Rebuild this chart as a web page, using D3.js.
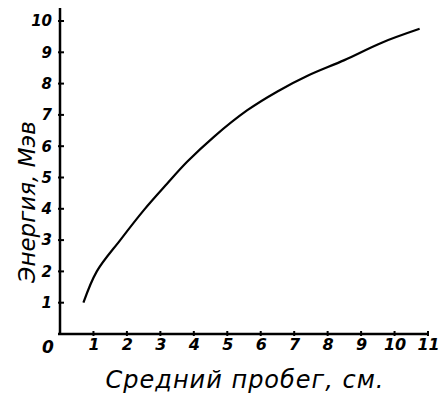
<!DOCTYPE html>
<html><head><meta charset="utf-8">
<script src="https://cdn.jsdelivr.net/npm/d3@7/dist/d3.min.js"></script>
<style>body{margin:0;background:#fff}svg{display:block}</style>
</head><body>
<script>
const rangeCm = [0.7,1.1,1.8,2.5,3.2,3.8,4.6,5.6,6.5,7.4,8.5,9.6,10.75];
const energyMeV = [1.0,2.0,3.0,3.95,4.8,5.5,6.3,7.15,7.75,8.25,8.75,9.3,9.75];
const xTicks = [1,2,3,4,5,6,7,8,9,10,11];
const yTicks = [1,2,3,4,5,6,7,8,9,10];
const xTitle = "Средний пробег, см.";
const yTitle = "Энергия, Мэв";

const W=439,H=393;
const svg=d3.select("body").append("svg").attr("width",W).attr("height",H);
const x=d3.scaleLinear().domain([0,11]).range([60,428]);
const y=d3.scaleLinear().domain([0,10]).range([334,21]);
const font="'DejaVu Sans', sans-serif";

// axes
const xa=svg.append("g").attr("transform",`translate(0,${y(0)})`)
  .call(d3.axisBottom(x).tickValues(xTicks).tickSize(0).tickPadding(5).tickFormat(d3.format("d")));
xa.select(".domain").remove();
xa.selectAll("text").attr("font-family",font).attr("font-size",16).attr("font-weight","bold").attr("font-style","italic").attr("fill","#000");
svg.append("line").attr("x1",x(0)-2).attr("x2",x(11)).attr("y1",y(0)).attr("y2",y(0)).attr("stroke","#000").attr("stroke-width",2.5);
svg.selectAll(".xt").data(xTicks).join("line").attr("x1",d=>x(d)).attr("x2",d=>x(d))
  .attr("y1",y(0)-3).attr("y2",y(0)+2).attr("stroke","#000").attr("stroke-width",2);

const ya=svg.append("g").attr("transform",`translate(${x(0)},0)`)
  .call(d3.axisLeft(y).tickValues(yTicks).tickSize(0).tickPadding(8).tickFormat(d3.format("d")));
ya.select(".domain").remove();
ya.selectAll("text").attr("font-family",font).attr("font-size",15).attr("font-weight","bold").attr("font-style","italic").attr("fill","#000");
svg.append("line").attr("x1",x(0)).attr("x2",x(0)).attr("y1",8).attr("y2",y(0)+1).attr("stroke","#000").attr("stroke-width",2.5);
svg.selectAll(".yt").data(yTicks).join("line").attr("x1",x(0)-2).attr("x2",x(0)+4)
  .attr("y1",d=>y(d)).attr("y2",d=>y(d)).attr("stroke","#000").attr("stroke-width",2);

svg.append("text").attr("x",x(0)-12).attr("y",y(0)+19).attr("text-anchor","middle")
  .attr("font-family",font).attr("font-size",17).attr("font-weight","bold").attr("font-style","italic").text("0");

// curve
const pts=rangeCm.map((d,i)=>[d,energyMeV[i]]);
svg.append("path").datum(pts).attr("fill","none").attr("stroke","#000").attr("stroke-width",2.2)
  .attr("d",d3.line().x(d=>x(d[0])).y(d=>y(d[1])).curve(d3.curveCatmullRom.alpha(0.5)));

// titles
svg.append("text").attr("x",245).attr("y",388).attr("text-anchor","middle")
  .attr("font-family",font).attr("font-size",24).attr("font-style","italic").attr("letter-spacing",1).attr("fill","#000").text(xTitle);
svg.append("text").attr("transform","translate(35,202) rotate(-90)").attr("text-anchor","middle")
  .attr("font-family",font).attr("font-size",23).attr("font-style","italic").attr("fill","#000").text(yTitle);
</script>
</body></html>
